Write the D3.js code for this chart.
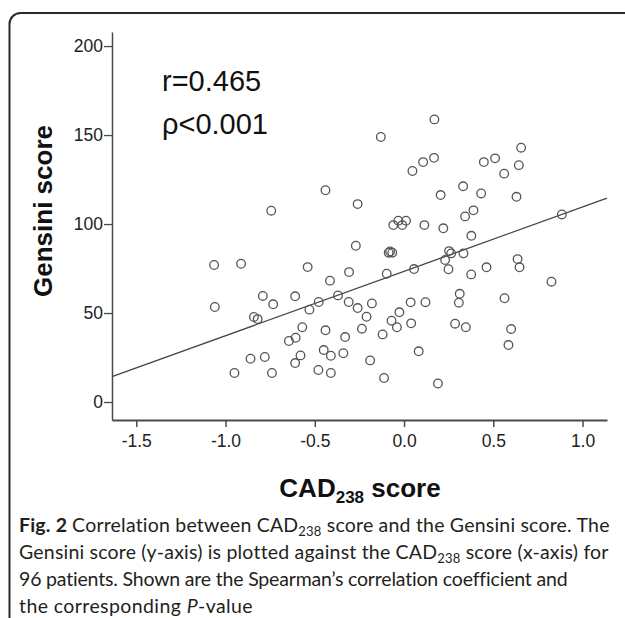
<!DOCTYPE html>
<html>
<head>
<meta charset="utf-8">
<script src="https://cdn.jsdelivr.net/npm/d3@7"></script>
<style>
    body { margin: 0; background: #fff; }
    svg { display: block; }
    .tick text { font-family: "Liberation Sans", Arial, sans-serif; font-size: 17.5px; fill: #222; }
    .axis path, .axis line { stroke: #4a4a4a; }
</style>
</head>
<body>
<div id="chart"></div>
<script>
// CAD238 score (x) and Gensini score (y) for each patient
var cadScore = [
    -1.064, -0.913, -0.791, -0.733, -1.06, -0.841, -0.82, -0.86, -0.78, -0.95,
    -0.74, 0.17, -0.13, 0.107, 0.168, 0.047, -0.44, -0.26, -0.744, 0.205,
    -0.06, -0.032, -0.01, 0.011, 0.114, 0.22, -0.27, -0.086, -0.066, -0.54,
    -0.308, -0.097, 0.056, -0.415, -0.61, -0.37, -0.478, -0.53, -0.31, -0.26,
    -0.18, -0.21, 0.037, 0.12, -0.026, -0.07, -0.04, 0.04, -0.57, -0.607,
    -0.645, -0.44, -0.33, -0.236, -0.12, -0.58, -0.61, -0.45, -0.41, -0.34,
    -0.19, 0.082, -0.48, -0.41, -0.112, 0.19, 0.656, 0.51, 0.447, 0.643,
    0.561, 0.331, 0.432, 0.63, 0.884, 0.389, 0.342, 0.377, 0.252, 0.264,
    0.333, 0.23, 0.249, 0.376, 0.462, 0.636, 0.647, 0.826, 0.312, 0.307,
    0.563, 0.286, 0.346, 0.6, 0.585, -0.078
];
var gensiniScore = [
    77, 77.7, 59.6, 54.9, 53.4, 47.8, 46.6, 24.3, 25.3, 16.3,
    16.3, 158.8, 148.9, 134.8, 137.2, 129.8, 119, 111.2, 107.5, 116.3,
    99.4, 101.9, 99.4, 101.9, 99.4, 97.6, 87.8, 83.9, 83.9, 75.8,
    73, 72.1, 74.7, 68.2, 59.4, 59.9, 56.2, 51.9, 56.2, 52.8,
    55.4, 47.9, 56, 56.1, 50.4, 45.7, 42, 44.2, 42, 36.1,
    34.3, 40.3, 36.5, 41.2, 38, 26.2, 21.9, 29.2, 26, 27.4,
    23.4, 28.5, 18, 16.3, 13.5, 10.4, 142.9, 136.9, 134.8, 133.1,
    128.3, 121.2, 117.2, 115.3, 105.4, 107.7, 104.3, 93.4, 84.8, 83.5,
    83.5, 79.8, 74.6, 71.7, 75.7, 80.3, 75.7, 67.6, 60.8, 55.8,
    58.3, 44, 42, 41, 32, 84.6
];

// fitted line end points, as drawn in the figure
var fitX = [-1.636, 1.137];
var fitY = [14.3, 114.5];

var xTicks = [-1.5, -1.0, -0.5, 0.0, 0.5, 1.0];
var yTicks = [0, 50, 100, 150, 200];

var statLines = ["r=0.465", "\u03c1<0.001"];

var width = 625, height = 618;

var svg = d3.select("#chart").append("svg")
    .attr("width", width)
    .attr("height", height);

// rounded frame around the figure
svg.append("rect")
    .attr("x", 9.5)
    .attr("y", 13)
    .attr("width", 680)
    .attr("height", 680)
    .attr("rx", 11)
    .attr("fill", "none")
    .attr("stroke", "#2a2a2a")
    .attr("stroke-width", 2);

var x = d3.scaleLinear().domain([-1.636, 1.137]).range([112, 607]);
var y = d3.scaleLinear().domain([-10.1, 207.9]).range([420, 32]);

// axes
var xAxis = svg.append("g")
    .attr("class", "axis")
    .attr("transform", "translate(0,420)")
    .call(d3.axisBottom(x)
        .tickValues(xTicks)
        .tickSize(7)
        .tickSizeOuter(0)
        .tickPadding(8)
        .tickFormat(d => d.toFixed(1)));
xAxis.select(".domain").attr("stroke-width", 2);
xAxis.selectAll(".tick line").attr("stroke-width", 1.5);

var yAxis = svg.append("g")
    .attr("class", "axis")
    .attr("transform", "translate(112,0)")
    .call(d3.axisLeft(y)
        .tickValues(yTicks)
        .tickSize(8)
        .tickSizeOuter(0)
        .tickPadding(1));
yAxis.select(".domain").attr("stroke-width", 1.5);
yAxis.selectAll(".tick line").attr("stroke-width", 1.3);

// fit line
svg.append("line")
    .attr("x1", x(fitX[0]))
    .attr("y1", y(fitY[0]))
    .attr("x2", x(fitX[1]))
    .attr("y2", y(fitY[1]))
    .attr("stroke", "#444")
    .attr("stroke-width", 1.3);

// points
svg.append("g").selectAll("circle")
    .data(cadScore.map((d, i) => [d, gensiniScore[i]]))
    .enter().append("circle")
    .attr("cx", d => x(d[0]))
    .attr("cy", d => y(d[1]))
    .attr("r", 4.3)
    .attr("fill", "none")
    .attr("stroke", "#555")
    .attr("stroke-width", 1.3);

// r and rho
svg.selectAll(".stat")
    .data(statLines)
    .enter().append("text")
    .attr("class", "stat")
    .attr("x", 162)
    .attr("y", (d, i) => 91 + i * 43)
    .attr("font-family", "Liberation Sans, Arial, sans-serif")
    .attr("font-size", 29)
    .attr("fill", "#111")
    .text(d => d);

// axis titles
var xTitle = svg.append("text")
    .attr("x", 360)
    .attr("y", 497)
    .attr("text-anchor", "middle")
    .attr("font-family", "Liberation Sans, Arial, sans-serif")
    .attr("font-weight", "bold")
    .attr("font-size", 26)
    .attr("fill", "#111");
xTitle.append("tspan").text("CAD");
xTitle.append("tspan").attr("font-size", 17).attr("dy", 6).text("238");
xTitle.append("tspan").attr("dy", -6).text(" score");

svg.append("text")
    .attr("transform", "translate(52,211) rotate(-90)")
    .attr("text-anchor", "middle")
    .attr("font-family", "Liberation Sans, Arial, sans-serif")
    .attr("font-weight", "bold")
    .attr("font-size", 26)
    .attr("fill", "#111")
    .text("Gensini score");

// caption, with the line widths of the original layout
var caption = [
    [["Fig. 2 ", "b"], ["Correlation between CAD"], ["238", "sub"], [" score and the Gensini score. The"]],
    [["Gensini score (y-axis) is plotted against the CAD"], ["238", "sub"], [" score (x-axis) for"]],
    [["96 patients. Shown are the Spearman\u2019s correlation coefficient and"]],
    [["the corresponding "], ["P", "i"], ["-value"]]
];
var captionWidth = [591, 589, 548, 234];

caption.forEach((line, i) => {
    var t = svg.append("text")
        .attr("x", 19)
        .attr("y", 532 + i * 27)
        .attr("font-family", "Lato, Open Sans, sans-serif")
        .attr("font-size", 19.5)
        .attr("fill", "#231f20");
    line.forEach(part => {
        var s = t.append("tspan").text(part[0]);
        if (part[1] === "b") s.attr("font-weight", "bold");
        if (part[1] === "i") s.attr("font-style", "italic");
        if (part[1] === "sub") s.attr("font-size", 13).attr("dy", 4);
    });
    t.selectAll("tspan").each(function (d, j, nodes) {
        if (j > 0 && nodes[j - 1].textContent === "238") d3.select(this).attr("dy", -4);
    });
    // stretch letter spacing so the line ends where it does in the figure
    var natural = t.node().getComputedTextLength();
    var chars = t.text().length;
    t.attr("letter-spacing", ((captionWidth[i] - natural) / chars).toFixed(3));
});
</script>
</body>
</html>
